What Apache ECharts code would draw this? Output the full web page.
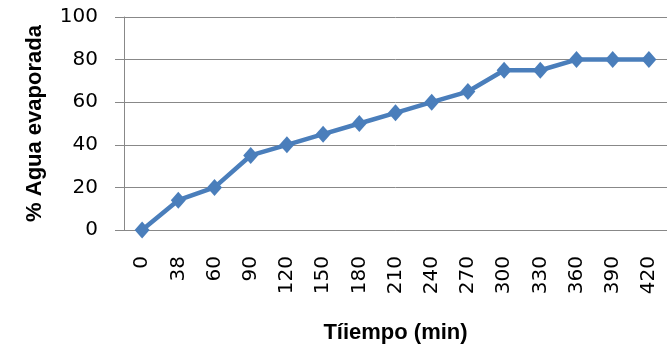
<!DOCTYPE html>
<html><head><meta charset="utf-8">
<script src="https://cdn.jsdelivr.net/npm/echarts@6/dist/echarts.min.js"></script>
<style>html,body{margin:0;padding:0;background:#fff}#c{width:667px;height:349px}</style>
</head><body><div id="c"></div>
<script>
const categories = ['0','38','60','90','120','150','180','210','240','270','300','330','360','390','420'];
const evaporada = [0,14,20,35,40,45,50,55,60,65,75,75,80,80,80];
const yTicks = {min:0, max:100, interval:20};
const xTitle = 'Tíiempo (min)';
const yTitle = '% Agua evaporada';

const chart = echarts.init(document.getElementById('c'), null, {renderer:'canvas'});
chart.setOption({
  animation:false,
  backgroundColor:'#fff',
  grid:{left:124, top:17, width:548, height:214, containLabel:false},
  xAxis:{
    type:'category', data:categories, boundaryGap:true,
    name:xTitle, nameLocation:'middle', nameGap:92,
    nameTextStyle:{fontFamily:'Liberation Sans', fontSize:22, fontWeight:'bold', color:'#000'},
    axisLine:{lineStyle:{color:'#888', width:1}},
    axisTick:{show:false},
    axisLabel:{rotate:90, margin:26, fontFamily:'DejaVu Sans', fontSize:20, color:'#000'}
  },
  yAxis:{
    type:'value', min:yTicks.min, max:yTicks.max, interval:yTicks.interval,
    name:yTitle, nameLocation:'middle', nameGap:78, nameRotate:90,
    nameTextStyle:{fontFamily:'Liberation Sans', fontSize:22, fontWeight:'bold', color:'#000'},
    axisLine:{show:true, lineStyle:{color:'#888', width:1}},
    axisTick:{show:true, inside:false, length:9, lineStyle:{color:'#888'}},
    splitLine:{show:true, lineStyle:{color:'#888', width:1}},
    axisLabel:{margin:26, fontFamily:'DejaVu Sans', fontSize:20, color:'#000'}
  },
  series:[{
    type:'line', data:evaporada,
    symbol:'diamond', symbolSize:[15,17],
    lineStyle:{color:'#4a7ebb', width:4.5},
    itemStyle:{color:'#4a7ebb'}
  }]
});
</script></body></html>
